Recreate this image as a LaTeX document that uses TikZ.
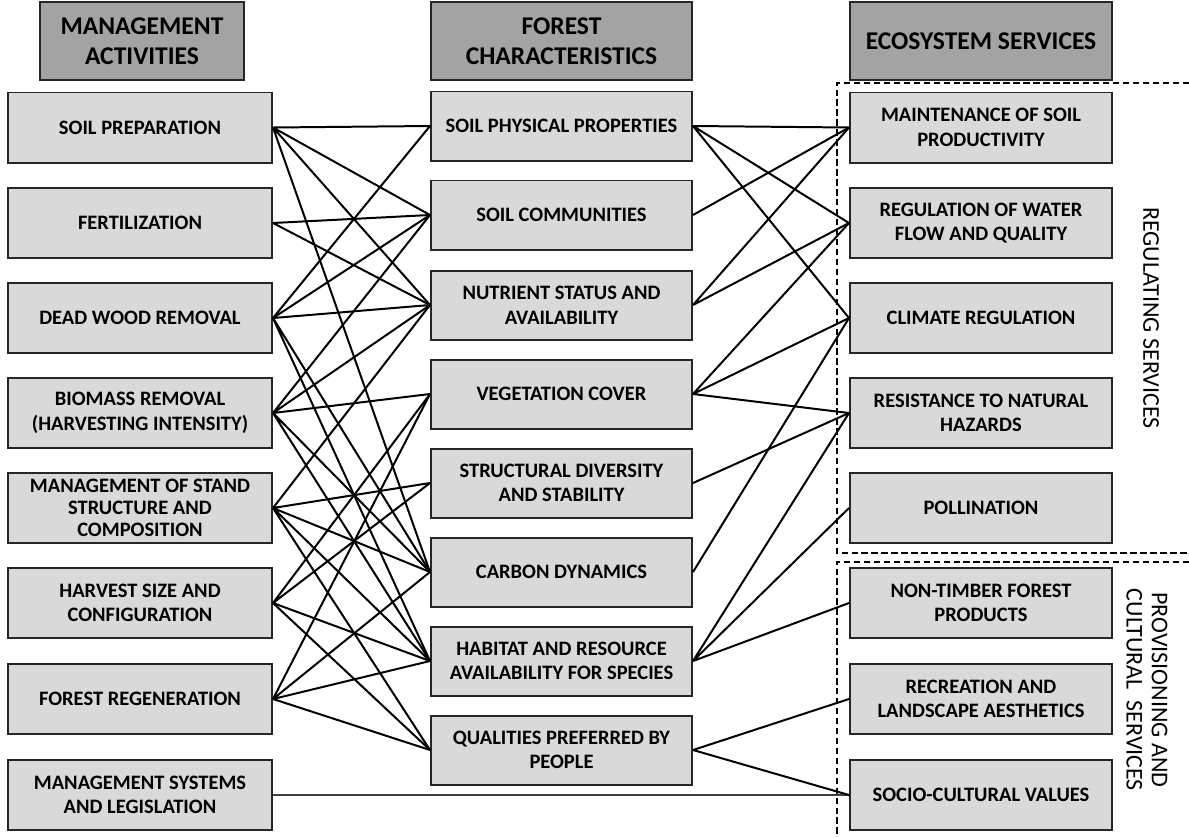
\documentclass[tikz,border=0pt]{standalone}
\usepackage{fontspec}
\setmainfont{Carlito}
\begin{document}
\begin{tikzpicture}[x=0.03cm, y=-0.03cm,
    caja/.style={draw=black!85, line width=1.7pt, fill=black!15, align=center, inner sep=0pt,
      font=\bfseries\fontsize{17.5}{21}\selectfont},
    actividad/.style={caja, minimum width=7.92cm, minimum height=2.1cm},
    rasgo/.style={caja, minimum width=7.83cm, minimum height=2.07cm},
    servicio/.style={caja, minimum width=7.86cm, minimum height=2.1cm},
    titulo/.style={caja, fill=black!36, minimum height=2.34cm,
      font=\bfseries\fontsize{21.8}{25.6}\selectfont},
    enlace/.style={line width=1.7pt, black},
    grupo/.style={dashed, line width=1.2pt, dash pattern=on 5.5pt off 3pt},
    rotulo/.style={rotate=-90, align=center, font=\fontsize{20.5}{21.5}\selectfont}]
    \useasboundingbox (0,0) rectangle (1189,836);

    % Titulos
    \node[titulo, minimum width=6.12cm] (tma) at (142,41) {MANAGEMENT\\ACTIVITIES};
    \node[titulo, minimum width=7.83cm] (tfc) at (561.5,41) {FOREST\\CHARACTERISTICS};
    \node[titulo, minimum width=7.86cm] (tes) at (981,41) {ECOSYSTEM SERVICES};

    % Actividades
    \node[actividad] (ma1) at (140,127.5) {SOIL PREPARATION};
    \node[actividad] (ma2) at (140,223) {FERTILIZATION};
    \node[actividad] (ma3) at (140,318) {DEAD WOOD REMOVAL};
    \node[actividad] (ma4) at (140,413) {BIOMASS REMOVAL\\(HARVESTING INTENSITY)};
    \node[actividad, font=\bfseries\fontsize{17.5}{18.8}\selectfont] (ma5) at (140,508) {MANAGEMENT OF STAND\\STRUCTURE AND\\COMPOSITION};
    \node[actividad] (ma6) at (140,603) {HARVEST SIZE AND\\CONFIGURATION};
    \node[actividad] (ma7) at (140,699) {FOREST REGENERATION};
    \node[actividad] (ma8) at (140,795) {MANAGEMENT SYSTEMS\\AND LEGISLATION};

    % Caracteristicas
    \node[rasgo] (fc1) at (561.5,126) {SOIL PHYSICAL PROPERTIES};
    \node[rasgo] (fc2) at (561.5,215) {SOIL COMMUNITIES};
    \node[rasgo] (fc3) at (561.5,305) {NUTRIENT STATUS AND\\AVAILABILITY};
    \node[rasgo] (fc4) at (561.5,394) {VEGETATION COVER};
    \node[rasgo] (fc5) at (561.5,483) {STRUCTURAL DIVERSITY\\AND STABILITY};
    \node[rasgo] (fc6) at (561.5,572) {CARBON DYNAMICS};
    \node[rasgo] (fc7) at (561.5,661) {HABITAT AND RESOURCE\\AVAILABILITY FOR SPECIES};
    \node[rasgo] (fc8) at (561.5,750) {QUALITIES PREFERRED BY\\PEOPLE};

    % Servicios
    \node[servicio] (es1) at (981,127.5) {MAINTENANCE OF SOIL\\PRODUCTIVITY};
    \node[servicio] (es2) at (981,223) {REGULATION OF WATER\\FLOW AND QUALITY};
    \node[servicio] (es3) at (981,318) {CLIMATE REGULATION};
    \node[servicio] (es4) at (981,413) {RESISTANCE TO NATURAL\\HAZARDS};
    \node[servicio] (es5) at (981,508) {POLLINATION};
    \node[servicio] (es6) at (981,603) {NON-TIMBER FOREST\\PRODUCTS};
    \node[servicio] (es7) at (981,699) {RECREATION AND\\LANDSCAPE AESTHETICS};
    \node[servicio] (es8) at (981,795) {SOCIO-CULTURAL VALUES};

    % Grupos de servicios
    \draw[grupo] (1189,83) -- (837,83) -- (837,553) -- (1189,553);
    \draw[grupo] (1189,562) -- (837,562) -- (837,836);
    \node[rotulo] (reg) at (1151,318) {REGULATING SERVICES};
    \node[rotulo] (pro) at (1147,690) {PROVISIONING AND\\CULTURAL\ \ SERVICES};

    % Actividades -> caracteristicas
    \draw[enlace] (ma1.east) -- (fc1.west) (ma1.east) -- (fc2.west) (ma1.east) -- (fc3.west) (ma1.east) -- (fc6.west);
    \draw[enlace] (ma2.east) -- (fc2.west) (ma2.east) -- (fc3.west);
    \draw[enlace] (ma3.east) -- (fc1.west) (ma3.east) -- (fc2.west) (ma3.east) -- (fc3.west) (ma3.east) -- (fc6.west) (ma3.east) -- (fc7.west);
    \draw[enlace] (ma4.east) -- (fc2.west) (ma4.east) -- (fc3.west) (ma4.east) -- (fc4.west) (ma4.east) -- (fc6.west) (ma4.east) -- (fc7.west);
    \draw[enlace] (ma5.east) -- (fc3.west) (ma5.east) -- (fc5.west) (ma5.east) -- (fc6.west) (ma5.east) -- (fc7.west) (ma5.east) -- (fc8.west);
    \draw[enlace] (ma6.east) -- (fc4.west) (ma6.east) -- (fc5.west) (ma6.east) -- (fc7.west) (ma6.east) -- (fc8.west);
    \draw[enlace] (ma7.east) -- (fc4.west) (ma7.east) -- (fc6.west) (ma7.east) -- (fc7.west) (ma7.east) -- (fc8.west);
    \draw[line width=1pt, black!75] (ma8.east) -- (ma8.east -| es8.west);

    % Caracteristicas -> servicios
    \draw[enlace] (fc1.east) -- (es1.west) (fc1.east) -- (es2.west) (fc1.east) -- (es3.west);
    \draw[enlace] (fc2.east) -- (es1.west);
    \draw[enlace] (fc3.east) -- (es1.west) (fc3.east) -- (es2.west);
    \draw[enlace] (fc4.east) -- (es2.west) (fc4.east) -- (es3.west) (fc4.east) -- (es4.west);
    \draw[enlace] (fc5.east) -- (es4.west);
    \draw[enlace] (fc6.east) -- (es3.west);
    \draw[enlace] (fc7.east) -- (es4.west) (fc7.east) -- (es5.west) (fc7.east) -- (es6.west);
    \draw[enlace] (fc8.east) -- (es7.west) (fc8.east) -- (es8.west);
\end{tikzpicture}
\end{document}
